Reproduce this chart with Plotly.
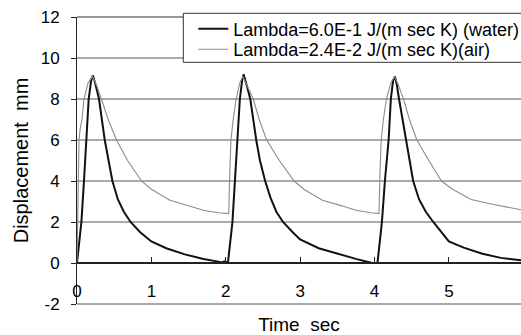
import plotly.graph_objects as go

# ---- data ----
t_water = [0.00, 0.03, 0.059, 0.094, 0.126, 0.157, 0.19, 0.215, 0.25, 0.296, 0.373, 0.42, 0.476, 0.55, 0.63, 0.72,
           0.85, 1.00, 1.20, 1.45, 1.70, 1.88, 1.95, 1.98, 2.03,
           2.09, 2.12, 2.15, 2.19, 2.22, 2.24, 2.28, 2.33, 2.41, 2.46, 2.53, 2.60, 2.68, 2.77,
           2.90, 3.00, 3.25, 3.50, 3.75, 3.90, 3.97, 4.04,
           4.10, 4.14, 4.19, 4.22, 4.25, 4.276, 4.30, 4.33, 4.42, 4.47, 4.52, 4.60, 4.69, 4.79,
           4.90, 5.00, 5.20, 5.45, 5.70, 5.97]
y_water = [0.00, 0.9, 2.0, 4.0, 6.0, 8.0, 8.9, 9.15, 8.7, 8.0, 6.0, 5.0, 4.0, 3.1, 2.5, 2.0,
           1.5, 1.05, 0.72, 0.42, 0.2, 0.08, 0.02, 0.08, 0.02,
           2.0, 4.0, 6.0, 8.0, 8.9, 9.2, 8.7, 8.0, 6.0, 5.0, 4.0, 3.2, 2.5, 2.0,
           1.5, 1.15, 0.72, 0.45, 0.2, 0.06, 0.0, 0.0,
           2.0, 4.0, 6.0, 8.0, 8.9, 9.1, 8.7, 8.0, 6.0, 5.0, 4.0, 3.1, 2.5, 2.0,
           1.5, 1.05, 0.75, 0.45, 0.25, 0.13]

t_air = [0.00, 0.015, 0.027, 0.045, 0.067, 0.094, 0.15, 0.21, 0.26, 0.328, 0.42, 0.53, 0.68, 0.867,
         1.00, 1.25, 1.50, 1.70, 1.90, 2.04,
         2.055, 2.07, 2.10, 2.14, 2.19, 2.23, 2.28, 2.37, 2.45, 2.55, 2.72, 2.92,
         3.05, 3.30, 3.55, 3.75, 3.95, 4.06,
         4.075, 4.09, 4.12, 4.16, 4.22, 4.27, 4.32, 4.39, 4.47, 4.57, 4.73, 4.90,
         5.05, 5.30, 5.60, 5.97]
y_air = [0.00, 3.0, 6.0, 6.6, 7.0, 8.0, 8.8, 9.1, 8.7, 8.0, 7.0, 6.0, 5.0, 4.0,
         3.6, 3.06, 2.8, 2.57, 2.45, 2.41,
         4.5, 6.0, 7.0, 8.0, 8.8, 9.1, 8.7, 8.0, 7.0, 6.0, 5.0, 4.0,
         3.6, 3.06, 2.8, 2.57, 2.45, 2.41,
         4.5, 6.0, 7.0, 8.0, 8.8, 9.1, 8.7, 8.0, 7.0, 6.0, 5.0, 4.0,
         3.6, 3.1, 2.85, 2.6]

name_water = "Lambda=6.0E-1 J/(m sec K) (water)"
name_air = "Lambda=2.4E-2 J/(m sec K)(air)"
x_ticks = [0, 1, 2, 3, 4, 5]
y_ticks = [-2, 0, 2, 4, 6, 8, 10, 12]
y_grid = [2, 4, 6, 8, 10]

FONT = "Liberation Sans, Arial, sans-serif"

# plot-area geometry in pixels (for legend / frame placement)
TOP, BOT = 17.0, 304.0
H = BOT - TOP
def py(pix):
    return (BOT - pix) / H

fig = go.Figure()
fig.add_trace(go.Scatter(x=t_water, y=y_water, mode="lines", name=name_water,
                         line=dict(color="#111111", width=2), legend="legend"))
fig.add_trace(go.Scatter(x=t_air, y=y_air, mode="lines", name=name_air,
                         line=dict(color="#8c8c8c", width=1.1), legend="legend2"))

leg_common = dict(font=dict(family=FONT, size=18, color="black"), bgcolor="rgba(0,0,0,0)",
                  borderwidth=0, xanchor="left", yanchor="middle", x=(193.3 - 77) / 444)

shapes = []
for g in y_grid:
    shapes.append(dict(type="line", xref="paper", yref="y", x0=0, x1=1.02, y0=g, y1=g, layer="below",
                       line=dict(color="#555555", width=1)))
shapes += [
    dict(type="line", xref="paper", yref="paper", x0=0, x1=1.02, y0=0, y1=0,
         line=dict(color="#555555", width=1)),
    dict(type="line", xref="paper", yref="paper", x0=0, x1=1.02, y0=1, y1=1,
         line=dict(color="#333333", width=1)),
    dict(type="rect", xref="paper", yref="paper", layer="above",
         x0=(183.3 - 77) / 444, x1=1.05, y0=py(62.3), y1=py(13.3),
         fillcolor="white", line=dict(color="#333333", width=1)),
]

fig.update_layout(
    width=521, height=335,
    margin=dict(l=77, r=0, t=17, b=31, autoexpand=False),
    paper_bgcolor="white", plot_bgcolor="white",
    font=dict(family=FONT, color="black"),
    showlegend=True,
    legend=dict(**leg_common, y=py(29)),
    legend2=dict(**leg_common, y=py(49.5)),
    xaxis=dict(
        range=[0, 5.97], anchor="free", position=2 / 14, automargin=False,
        tickvals=x_ticks, ticktext=[str(v) for v in x_ticks],
        ticks="inside", ticklen=5, tickcolor="#222",
        showline=True, linecolor="#222", linewidth=1.5,
        showgrid=False, zeroline=False,
        tickfont=dict(family=FONT, size=17, color="black"),
        ticklabelstandoff=13,
        title=dict(text="Time  sec", font=dict(family=FONT, size=19, color="black"), standoff=20),
    ),
    yaxis=dict(
        range=[-2, 12], domain=[0, 1], automargin=False,
        tickvals=y_ticks, ticktext=[str(v) for v in y_ticks],
        ticks="outside", ticklen=5, tickcolor="#222",
        showline=True, linecolor="#222", linewidth=1,
        showgrid=False, zeroline=False,
        tickfont=dict(family=FONT, size=17, color="black"),
        ticklabelstandoff=8,
        title=dict(text="Displacement  mm", font=dict(family=FONT, size=20, color="black"), standoff=6),
    ),
    shapes=shapes,
)

fig.write_html("out.html")
